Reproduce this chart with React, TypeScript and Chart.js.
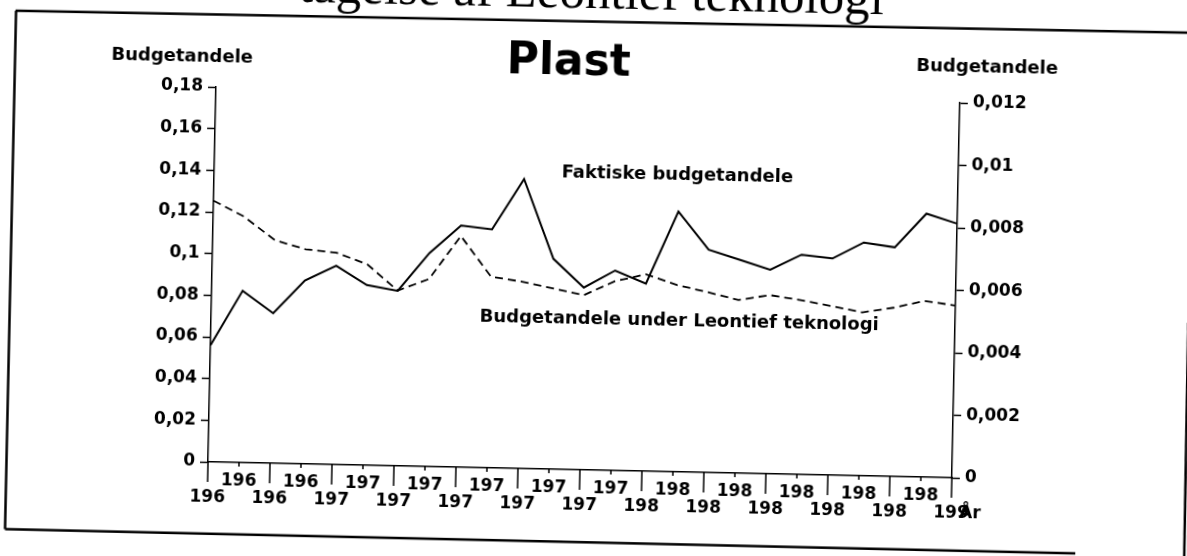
import React, { useEffect, useRef } from 'react';
import { Chart, registerables } from 'chart.js';

Chart.register(...registerables);

// ---- data ----
const years = [
  '1966', '1967', '1968', '1969', '1970', '1971', '1972', '1973', '1974', '1975', '1976', '1977', '1978',
  '1979', '1980', '1981', '1982', '1983', '1984', '1985', '1986', '1987', '1988', '1989', '1990',
];
const xTickLabels = [
  '196', '196', '196', '196', '197', '197', '197', '197', '197', '197', '197', '197', '197',
  '197', '198', '198', '198', '198', '198', '198', '198', '198', '198', '198', '199',
];
// Solid line (left axis)
const faktiske = [
  0.056, 0.0825, 0.072, 0.088, 0.0955, 0.0865, 0.084, 0.1025, 0.116, 0.1145, 0.139, 0.101, 0.0875,
  0.096, 0.09, 0.125, 0.107, 0.1025, 0.098, 0.1055, 0.104, 0.112, 0.11, 0.1265, 0.122,
];
// Dashed line (right axis)
const leontief = [
  0.00836, 0.00787, 0.00714, 0.00687, 0.00678, 0.00643, 0.00561, 0.006, 0.0074, 0.00612, 0.00598,
  0.00579, 0.00559, 0.00606, 0.0063, 0.00598, 0.00577, 0.00554, 0.00572, 0.00558, 0.00541, 0.00523,
  0.0054, 0.00564, 0.00551,
];
const leftTicks = [0, 0.02, 0.04, 0.06, 0.08, 0.1, 0.12, 0.14, 0.16, 0.18];
const leftTickLabels = ['0', '0,02', '0,04', '0,06', '0,08', '0,1', '0,12', '0,14', '0,16', '0,18'];
const rightTicks = [0, 0.002, 0.004, 0.006, 0.008, 0.01, 0.012];
const rightTickLabels = ['0', '0,002', '0,004', '0,006', '0,008', '0,01', '0,012'];

const seriesNames = ['Faktiske budgetandele', 'Budgetandele under Leontief teknologi'];
const chartTitle = 'Plast';
const headerText = 'tagelse af Leontief teknologi';
const leftAxisTitle = 'Budgetandele';
const rightAxisTitle = 'Budgetandele';
const xAxisTitle = 'År';

// ---- layout ----
const CW = 1210;
const CH = 640;
const OY = 40;
const ROT = 1.22;
const FAM = '"DejaVu Sans"';

export default function App() {
  const ref = useRef<HTMLCanvasElement>(null);

  useEffect(() => {
    const canvas = ref.current;
    if (!canvas) return;

    const decor = {
      id: 'decor',
      beforeDraw(chart: any) {
        const ctx = chart.ctx;
        ctx.save();
        ctx.fillStyle = '#fff';
        ctx.fillRect(0, 0, chart.width, chart.height);
        ctx.restore();
      },
      afterDraw(chart: any) {
        const ctx = chart.ctx as CanvasRenderingContext2D;
        const a = chart.chartArea;
        const xs = chart.scales.x;
        const ys = chart.scales.y;
        ctx.save();
        ctx.strokeStyle = '#000';
        ctx.fillStyle = '#000';

        // x tick marks: long at even indices, short at odd
        ctx.lineWidth = 1.5;
        for (let i = 0; i < years.length; i++) {
          const px = xs.getPixelForTick(i);
          const len = i % 2 === 0 ? 20 : 4;
          ctx.beginPath();
          ctx.moveTo(px, a.bottom);
          ctx.lineTo(px, a.bottom + len);
          ctx.stroke();
        }

        // frame
        ctx.lineWidth = 2.5;
        const seg = (x1: number, y1: number, x2: number, y2: number) => {
          ctx.beginPath();
          ctx.moveTo(x1, y1);
          ctx.lineTo(x2, y2);
          ctx.stroke();
        };
        seg(14, 15 + OY, 1188, 12 + OY);
        seg(14.5, 15 + OY, 14.5, 533.5 + OY);
        seg(14.5, 533.5 + OY, 1085, 535 + OY);
        seg(1193, 302 + OY, 1194, 536 + OY);

        // page header (cut off at the top)
        ctx.font = '51px "Liberation Serif"';
        ctx.textAlign = 'left';
        ctx.textBaseline = 'alphabetic';
        ctx.fillText(headerText, 297, 0 + OY);

        // title
        ctx.font = `bold 44px ${FAM}`;
        ctx.textAlign = 'center';
        ctx.textBaseline = 'alphabetic';
        ctx.fillText(chartTitle, a.left + 352, a.top - 20);

        // axis titles
        ctx.font = `bold 18px ${FAM}`;
        ctx.textBaseline = 'middle';
        ctx.fillText(leftAxisTitle, a.left - 34.5, a.top - 29.5);
        ctx.fillText(rightAxisTitle, a.right + 26.6, a.top - 36);

        // series annotations
        ctx.fillText(seriesNames[0], xs.getPixelForValue(14.94), ys.getPixelForValue(0.1426));
        ctx.fillText(seriesNames[1], xs.getPixelForValue(15.1), ys.getPixelForValue(0.0725));

        // x axis title
        ctx.font = `bold 17px ${FAM}`;
        ctx.textAlign = 'left';
        ctx.fillText(xAxisTitle, a.right + 8, a.bottom + 36);
        ctx.restore();
      },
    };

    const tickFont = { family: FAM, weight: 'bold' as const, size: 17, lineHeight: 1 };

    const chart = new Chart(canvas, {
      type: 'line',
      data: {
        labels: years,
        datasets: [
          {
            label: seriesNames[0],
            data: faktiske,
            yAxisID: 'y',
            borderColor: '#000',
            borderWidth: 2,
            pointRadius: 0,
            tension: 0,
            fill: false,
            clip: false as any,
          },
          {
            label: seriesNames[1],
            data: leontief,
            yAxisID: 'y1',
            borderColor: '#000',
            borderWidth: 1.8,
            borderDash: [8, 5],
            pointRadius: 0,
            tension: 0,
            fill: false,
            clip: false as any,
          },
        ],
      },
      options: {
        responsive: false,
        animation: false,
        devicePixelRatio: 1,
        layout: { padding: { left: 0, top: 87 + OY, right: CW - 960 - 100, bottom: CH - (462 + OY) - 60 } },
        plugins: {
          legend: { display: false },
          title: { display: false },
          tooltip: { enabled: false },
        },
        scales: {
          x: {
            type: 'category',
            offset: false,
            grid: { display: true, drawOnChartArea: false, drawTicks: false },
            border: { display: true, color: '#000', width: 1.5 },
            ticks: {
              autoSkip: false,
              maxRotation: 0,
              minRotation: 0,
              padding: 10.5,
              color: '#000',
              font: tickFont,
              callback: (_v: any, i: number) =>
                i % 2 === 1 ? [xTickLabels[i], ''] : ['', xTickLabels[i]],
            },
            afterFit: (s: any) => {
              s.height = 60;
            },
          },
          y: {
            position: 'left',
            min: 0,
            max: 0.18,
            afterBuildTicks: (s: any) => {
              s.ticks = leftTicks.map((v) => ({ value: v }));
            },
            grid: { drawOnChartArea: false, tickLength: 8, tickColor: '#000', tickWidth: 1.5 },
            border: { display: true, color: '#000', width: 1.5 },
            ticks: {
              padding: 5,
              color: '#000',
              font: tickFont,
              callback: (_v: any, i: number) => leftTickLabels[i],
            },
            afterFit: (s: any) => {
              s.width = 216;
            },
          },
          y1: {
            position: 'right',
            min: 0,
            max: 0.012,
            afterBuildTicks: (s: any) => {
              s.ticks = rightTicks.map((v) => ({ value: v }));
            },
            grid: { drawOnChartArea: false, tickLength: 8, tickColor: '#000', tickWidth: 1.5 },
            border: { display: true, color: '#000', width: 1.5 },
            ticks: {
              padding: 5,
              color: '#000',
              font: tickFont,
              callback: (_v: any, i: number) => rightTickLabels[i],
            },
            afterFit: (s: any) => {
              s.width = 100;
            },
          },
        },
      } as any,
      plugins: [decor],
    });

    return () => chart.destroy();
  }, []);

  return (
    <div
      style={{
        position: 'fixed',
        left: 0,
        top: 0,
        width: '100vw',
        height: '100vh',
        overflow: 'hidden',
        background: '#fff',
      }}
    >
      <canvas
        ref={ref}
        width={CW}
        height={CH}
        style={{
          position: 'absolute',
          left: 0,
          top: -OY,
          width: CW,
          height: CH,
          transform: `rotate(${ROT}deg)`,
          transformOrigin: `216px ${87 + OY}px`,
        }}
      />
    </div>
  );
}
